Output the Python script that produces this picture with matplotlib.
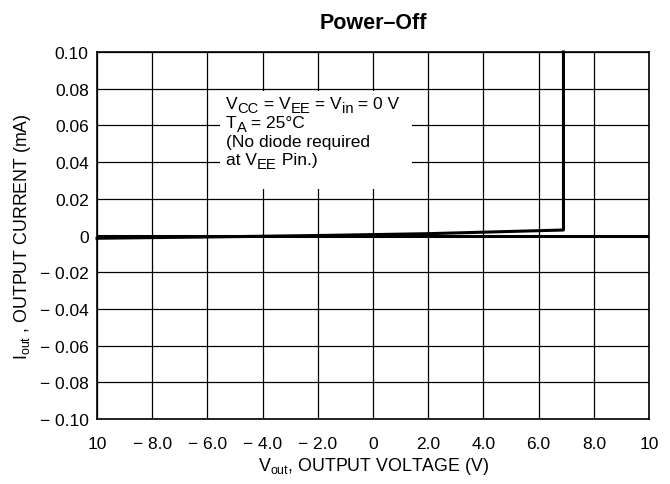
import matplotlib
matplotlib.use("Agg")
import matplotlib.pyplot as plt
from matplotlib.patches import Rectangle

plt.rcParams['font.family'] = ['Liberation Sans', 'DejaVu Sans']
plt.rcParams['mathtext.fontset'] = 'custom'
plt.rcParams['mathtext.rm'] = 'Liberation Sans'
plt.rcParams['mathtext.it'] = 'Liberation Sans'

# curve
v_out = [-10.0, -6.0, -2.0, 2.0, 6.9, 6.9]
i_out = [-0.0015, -0.0008, 0.0, 0.001, 0.003, 0.10]

x_ticks = [-10, -8, -6, -4, -2, 0, 2, 4, 6, 8, 10]
x_labels = ['10', '\u2212 8.0', '\u2212 6.0', '\u2212 4.0', '\u2212 2.0', '0',
            '2.0', '4.0', '6.0', '8.0', '10']
y_ticks = [-0.10, -0.08, -0.06, -0.04, -0.02, 0, 0.02, 0.04, 0.06, 0.08, 0.10]
y_labels = ['\u2212 0.10', '\u2212 0.08', '\u2212 0.06', '\u2212 0.04', '\u2212 0.02', '0',
            '0.02', '0.04', '0.06', '0.08', '0.10']

# note lines: (text, is_subscript) runs
note_lines = [
    [('V', False), ('CC', True), (' = V', False), ('EE', True),
     (' = V', False), ('in', True), (' = 0 V', False)],
    [('T', False), ('A', True), (' = 25\u00b0C', False)],
    [('(No diode required', False)],
    [('at V', False), ('EE', True), (' Pin.)', False)],
]

FS = 12.5


def rich_line(ax, x, y, parts, size):
    t = None
    for s, sub in parts:
        fs = size * 0.85 if sub else size
        dy = -size * 0.24 if sub else 0
        if t is None:
            t = ax.text(x, y, s, fontsize=fs, va='baseline', ha='left', zorder=5)
        else:
            t = ax.annotate(s, xy=(1, y), xycoords=(t, 'data'),
                            xytext=(0, dy), textcoords='offset points',
                            fontsize=fs, va='baseline', ha='left', zorder=5)


fig = plt.figure(figsize=(6.7, 4.85), dpi=100)
ax = fig.add_axes([0.1448, 0.134, 0.8239, 0.7567])

ax.set_xlim(-10, 10)
ax.set_ylim(-0.10, 0.10)
ax.set_xticks(x_ticks)
ax.set_xticklabels(x_labels)
ax.set_yticks(y_ticks)
ax.set_yticklabels(y_labels)
ax.tick_params(length=0, labelsize=FS)
ax.tick_params(axis='x', pad=12)
ax.tick_params(axis='y', pad=6)
ax.grid(True, color='black', linewidth=0.9)
for s in ax.spines.values():
    s.set_linewidth(1.2)

ax.axhline(0, color='black', linewidth=2.2, zorder=3)
ax.plot(v_out, i_out, color='black', linewidth=2.2, zorder=4, clip_on=False)

# white box behind the note
ax.add_patch(Rectangle((-5.54, 0.0253), 6.95, 0.0534,
                       facecolor='white', edgecolor='none', zorder=2.5))
baselines = [0.0695, 0.0591, 0.0490, 0.0390]
for yb, parts in zip(baselines, note_lines):
    rich_line(ax, -5.33, yb, parts, FS)

ax.set_title('Power\u2013Off', fontsize=15.5, fontweight='bold', pad=17)
ax.set_xlabel('V$_{\\rm out}$, OUTPUT VOLTAGE (V)', fontsize=12.8, labelpad=3)
ax.set_ylabel('I$_{\\rm out}$ , OUTPUT CURRENT (mA)', fontsize=12.8, labelpad=5)

fig.savefig('out.png', dpi=100)
